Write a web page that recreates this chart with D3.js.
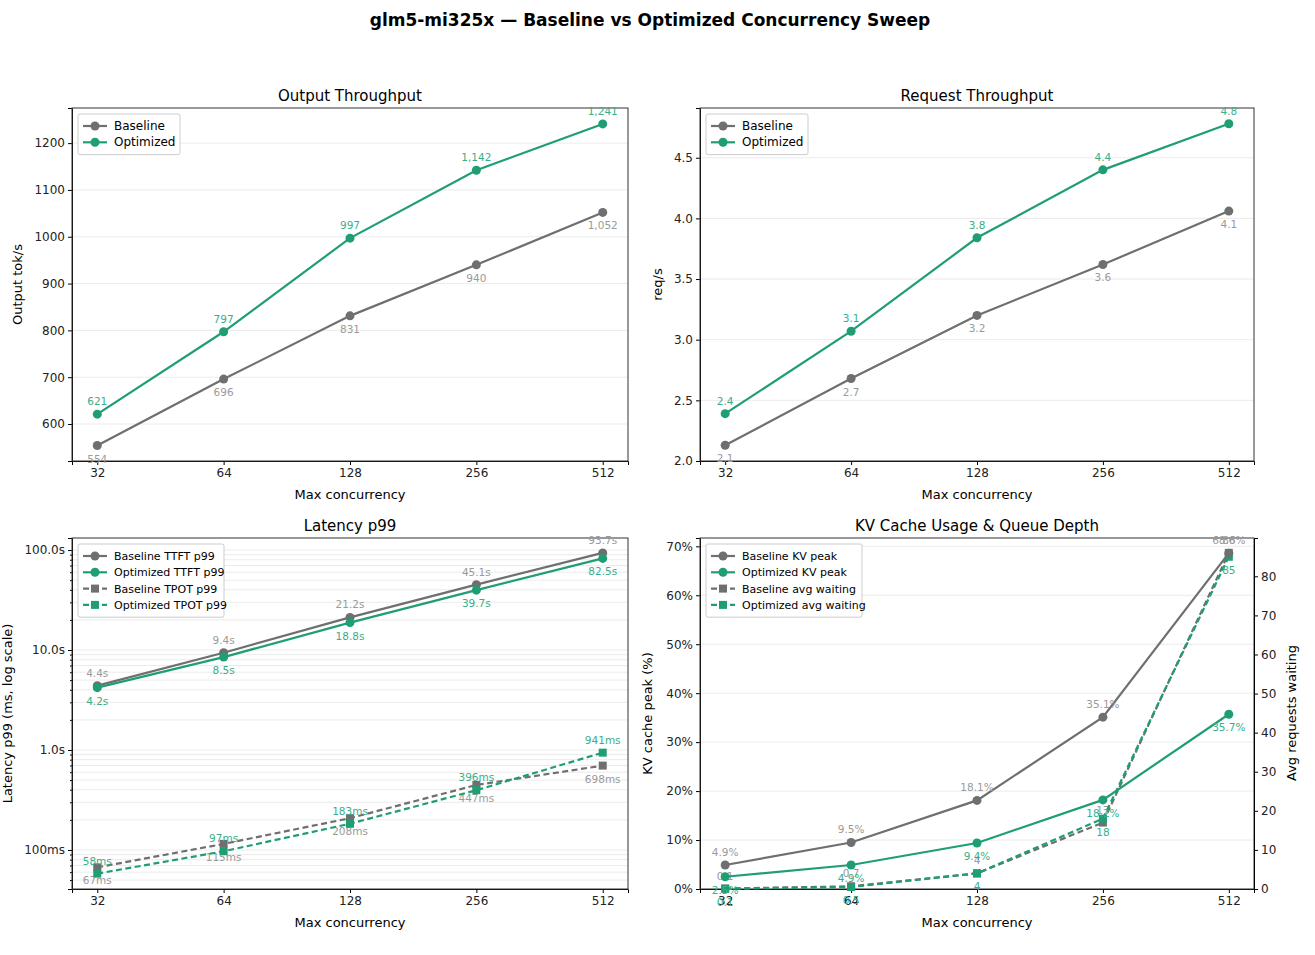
<!DOCTYPE html>
<html><head><meta charset="UTF-8">
<style>
body{margin:0;background:#fff;font-family:"DejaVu Sans",sans-serif;}
text{font-family:"DejaVu Sans",sans-serif;}
</style>
<script src="https://d3js.org/d3.v7.min.js"></script>
</head><body>
<svg id="c" width="1315" height="955"></svg>
<script>
const conc = [32, 64, 128, 256, 512];
const outBase = [554, 696, 831, 940, 1052];
const outOpt = [621, 797, 997, 1142, 1241];
const reqBase = [2.13, 2.68, 3.2, 3.62, 4.06];
const reqOpt = [2.39, 3.07, 3.84, 4.4, 4.78];
const ttftBase = [4400, 9400, 21200, 45100, 93700];
const ttftOpt = [4200, 8500, 18800, 39700, 82500];
const tpotBase = [67, 115, 208, 447, 698];
const tpotOpt = [58, 97, 183, 396, 941];
const kvBase = [4.9, 9.5, 18.1, 35.1, 68.6];
const kvOpt = [2.5, 4.9, 9.4, 18.2, 35.7];
const waitBase = [0.1, 0.7, 4, 17, 86];
const waitOpt = [0.1, 0.5, 4, 18, 85];

const GRAY = "#6f6f6f", GREEN = "#1f9e74", LG = "#9a9a9a", LGR = "#3aae88";
const svg = d3.select("#c");
svg.append("text").attr("x", 650).attr("y", 26).attr("text-anchor", "middle")
  .attr("font-size", 17).attr("font-weight", "bold").text("glm5-mi325x — Baseline vs Optimized Concurrency Sweep");

function panel(o) {
  const {x0, x1, y0, y1} = o;
  const g = svg.append("g");
  const x = d3.scaleLinear().domain([-0.2, 4.2]).range([x0, x1]);
  const y = o.y;
  o.grid.forEach(v => g.append("line").attr("x1", x0).attr("x2", x1).attr("y1", y(v)).attr("y2", y(v))
    .attr("stroke", "#e6e6e6").attr("stroke-width", 0.8));
  g.append("g").attr("transform", `translate(0,${y1})`)
    .call(d3.axisBottom(x).tickValues([0,1,2,3,4]).tickFormat(i => conc[i]).tickSize(4))
    .call(a => a.selectAll("text").attr("font-size", 12).attr("fill", "#222"));
  g.append("g").attr("transform", `translate(${x0},0)`)
    .call(d3.axisLeft(y).tickValues(o.ticks).tickFormat(o.fmt).tickSize(4))
    .call(a => a.selectAll("text").attr("font-size", 12).attr("fill", "#222"));
  if (o.minor) g.append("g").attr("transform", `translate(${x0},0)`)
    .call(d3.axisLeft(y).tickValues(o.minor).tickFormat("").tickSize(2));
  g.append("rect").attr("x", x0).attr("y", y0).attr("width", x1 - x0).attr("height", y1 - y0)
    .attr("fill", "none").attr("stroke", "#333");
  g.append("text").attr("x", (x0 + x1) / 2).attr("y", y0 - 7).attr("text-anchor", "middle")
    .attr("font-size", 15).text(o.title);
  g.append("text").attr("x", (x0 + x1) / 2).attr("y", y1 + 38).attr("text-anchor", "middle")
    .attr("font-size", 13).text("Max concurrency");
  g.append("text").attr("transform", `translate(${o.ylx},${(y0 + y1) / 2}) rotate(-90)`)
    .attr("text-anchor", "middle").attr("font-size", 13).text(o.ylabel);
  o.series.forEach(s => {
    const ys = s.y || y;
    const line = d3.line().x((d, i) => x(i)).y(d => ys(d));
    g.append("path").attr("d", line(s.data)).attr("fill", "none").attr("stroke", s.color)
      .attr("stroke-width", 2.2).attr("stroke-dasharray", s.dash ? "6,3.5" : null);
    s.data.forEach((d, i) => {
      if (s.square) g.append("rect").attr("x", x(i) - 4).attr("y", ys(d) - 4).attr("width", 8).attr("height", 8).attr("fill", s.color);
      else g.append("circle").attr("cx", x(i)).attr("cy", ys(d)).attr("r", 4.5).attr("fill", s.color);
      g.append("text").attr("x", x(i)).attr("y", ys(d) + (s.above ? -9 : 17)).attr("text-anchor", "middle")
        .attr("font-size", 10.5).attr("fill", s.lc).text(s.lab(d));
    });
  });
  const lh = o.legend.length * 16.3 + 8;
  const lg = g.append("g").attr("transform", `translate(${x0 + 6},${y0 + 6})`);
  lg.append("rect").attr("width", o.lw).attr("height", lh).attr("fill", "#fff").attr("stroke", "#ccc").attr("rx", 2);
  o.legend.forEach((s, i) => {
    const yy = 12 + i * 16.3;
    lg.append("line").attr("x1", 5).attr("x2", 29).attr("y1", yy).attr("y2", yy).attr("stroke", s.color)
      .attr("stroke-width", 2.2).attr("stroke-dasharray", s.dash ? "6,3.5" : null);
    if (s.square) lg.append("rect").attr("x", 13).attr("y", yy - 4).attr("width", 8).attr("height", 8).attr("fill", s.color);
    else lg.append("circle").attr("cx", 17).attr("cy", yy).attr("r", 4.5).attr("fill", s.color);
    lg.append("text").attr("x", 36).attr("y", yy + 4).attr("font-size", s.fs || 12).text(s.name);
  });
  return {g, x};
}

const fmtK = d3.format(",");
let y = d3.scaleLinear().domain([521, 1275]).range([461, 108]);
panel({x0: 72, x1: 628, y0: 108, y1: 461, y, grid: [600,700,800,900,1000,1100,1200], ticks: [600,700,800,900,1000,1100,1200],
  fmt: d => d, title: "Output Throughput", ylabel: "Output tok/s", ylx: 22, lw: 102,
  series: [{data: outBase, color: GRAY, lc: LG, lab: fmtK}, {data: outOpt, color: GREEN, lc: LGR, above: true, lab: fmtK}],
  legend: [{name: "Baseline", color: GRAY}, {name: "Optimized", color: GREEN}]});
y = d3.scaleLinear().domain([2.0, 4.91]).range([461, 108]);
panel({x0: 700, x1: 1254, y0: 108, y1: 461, y, grid: [2,2.5,3,3.5,4,4.5], ticks: [2,2.5,3,3.5,4,4.5],
  fmt: d3.format(".1f"), title: "Request Throughput", ylabel: "req/s", ylx: 662, lw: 102,
  series: [{data: reqBase, color: GRAY, lc: LG, lab: d3.format(".1f")}, {data: reqOpt, color: GREEN, lc: LGR, above: true, lab: d3.format(".1f")}],
  legend: [{name: "Baseline", color: GRAY}, {name: "Optimized", color: GREEN}]});
y = d3.scaleLog().domain([40.7, 132000]).range([889, 538]);
const minors = [];
[10, 100, 1000, 10000, 100000].forEach(b => { for (let k = 2; k < 10; k++) { const v = b * k; if (v > 40.7 && v < 132000) minors.push(v); } });
const fmtS = d => d >= 1000 ? d3.format(".1f")(d / 1000) + "s" : d + "ms";
panel({x0: 72, x1: 628, y0: 538, y1: 889, y, grid: [100, 1000, 10000, 100000].concat(minors), ticks: [100, 1000, 10000, 100000], minor: minors,
  fmt: d => d >= 1000 ? (d / 1000).toFixed(1) + "s" : d + "ms", title: "Latency p99", ylabel: "Latency p99 (ms, log scale)", ylx: 12, lw: 146,
  series: [{data: ttftBase, color: GRAY, lc: LG, above: true, lab: fmtS}, {data: ttftOpt, color: GREEN, lc: LGR, lab: fmtS},
    {data: tpotBase, color: GRAY, lc: LG, dash: true, square: true, lab: fmtS}, {data: tpotOpt, color: GREEN, lc: LGR, dash: true, square: true, above: true, lab: fmtS}],
  legend: [{name: "Baseline TTFT p99", color: GRAY, fs: 11}, {name: "Optimized TTFT p99", color: GREEN, fs: 11},
    {name: "Baseline TPOT p99", color: GRAY, dash: true, square: true, fs: 11}, {name: "Optimized TPOT p99", color: GREEN, dash: true, square: true, fs: 11}]});
y = d3.scaleLinear().domain([0, 71.7]).range([889, 538]);
const y2 = d3.scaleLinear().domain([0, 89.8]).range([889, 538]);
const p = panel({x0: 700, x1: 1254, y0: 538, y1: 889, y, grid: [0,10,20,30,40,50,60,70], ticks: [0,10,20,30,40,50,60,70],
  fmt: d => d + "%", title: "KV Cache Usage & Queue Depth", ylabel: "KV cache peak (%)", ylx: 652, lw: 156,
  series: [{data: waitBase, y: y2, color: GRAY, lc: LG, dash: true, square: true, above: true, lab: d => d},
    {data: waitOpt, y: y2, color: GREEN, lc: LGR, dash: true, square: true, lab: d => d},
    {data: kvBase, color: GRAY, lc: LG, above: true, lab: d => d + "%"}, {data: kvOpt, color: GREEN, lc: LGR, lab: d => d + "%"}],
  legend: [{name: "Baseline KV peak", color: GRAY, fs: 11}, {name: "Optimized KV peak", color: GREEN, fs: 11},
    {name: "Baseline avg waiting", color: GRAY, dash: true, square: true, fs: 11}, {name: "Optimized avg waiting", color: GREEN, dash: true, square: true, fs: 11}]});
p.g.append("g").attr("transform", "translate(1254,0)")
  .call(d3.axisRight(y2).tickValues([0,10,20,30,40,50,60,70,80]).tickSize(4))
  .call(a => a.selectAll("text").attr("font-size", 12).attr("fill", "#222"));
p.g.append("text").attr("transform", "translate(1296,713) rotate(-90)").attr("text-anchor", "middle")
  .attr("font-size", 13).text("Avg requests waiting");
</script>
</body></html>
